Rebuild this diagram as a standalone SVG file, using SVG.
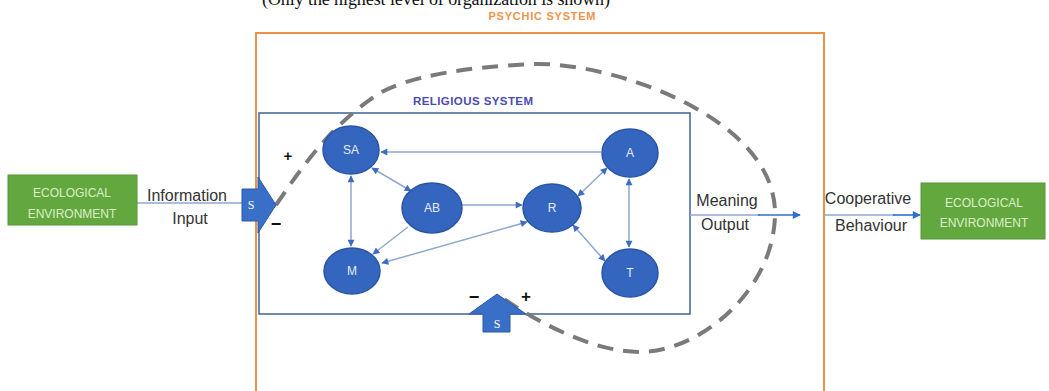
<svg xmlns="http://www.w3.org/2000/svg" width="1049" height="391" viewBox="0 0 1049 391">
<defs>
<style>
.node ellipse{fill:#3466c0;stroke:#2a55a3;stroke-width:1.5}
.node text{fill:#e6edf9;font-family:"Liberation Sans",Arial,sans-serif;font-size:12px;text-anchor:middle}
.edge{stroke:#8ea8cf;stroke-width:1.5;fill:none}
.lbl{fill:#333;font-family:"Liberation Sans",Arial,sans-serif;font-size:16px;text-anchor:middle}
.eco rect{fill:#62a83e;stroke:#559636;stroke-width:1}
.eco text{fill:#dcefc8;font-family:"Liberation Sans",Arial,sans-serif;font-size:12px;text-anchor:middle}
.sarrow polygon{fill:#3a6fc8;stroke:#2b5aa8;stroke-width:1}
.sarrow text{fill:#fff;font-family:"Liberation Serif",serif;font-size:12px;text-anchor:middle}
.sign{fill:#111;font-family:"Liberation Sans",Arial,sans-serif;font-weight:bold;text-anchor:middle}
</style>
<marker id="ah" viewBox="0 0 10 10" refX="9" refY="5" markerWidth="8" markerHeight="7" markerUnits="userSpaceOnUse" orient="auto-start-reverse">
<path d="M0,0 L10,5 L0,10 z" fill="#3d6dc2"/>
</marker>
<marker id="ahb" viewBox="0 0 10 10" refX="9" refY="5" markerWidth="9" markerHeight="8" markerUnits="userSpaceOnUse" orient="auto">
<path d="M0,0 L10,5 L0,10 z" fill="#2f6fd0"/>
</marker>
</defs>
<rect width="1049" height="391" fill="#ffffff"/>
<text x="262" y="5" font-family="Liberation Serif,serif" font-size="18" fill="#111" textLength="348">(Only the highest level of organization is shown)</text>
<g id="psychic-system">
<rect x="256" y="33" width="568" height="380" fill="none" stroke="#ee9046" stroke-width="2"/>
<text x="542" y="20" fill="#f0934a" font-family="Liberation Sans,Arial,sans-serif" font-weight="bold" font-size="11" text-anchor="middle" textLength="107">PSYCHIC SYSTEM</text>
</g>
<g id="religious-system">
<rect x="259" y="113" width="431" height="201" fill="none" stroke="#4a6d9e" stroke-width="1.6"/>
<text x="473" y="105" fill="#4b4bb4" font-family="Liberation Sans,Arial,sans-serif" font-weight="bold" font-size="11.5" text-anchor="middle" textLength="120">RELIGIOUS SYSTEM</text>
</g>
<g id="connectors">
<line class="edge" x1="601" y1="152" x2="381" y2="152" marker-end="url(#ah)"/>
<line class="edge" x1="372" y1="168" x2="411" y2="191" marker-start="url(#ah)" marker-end="url(#ah)"/>
<line class="edge" x1="351" y1="176" x2="351" y2="246" marker-start="url(#ah)" marker-end="url(#ah)"/>
<line class="edge" x1="462" y1="205" x2="522" y2="205" marker-end="url(#ah)"/>
<line class="edge" x1="408" y1="227" x2="373" y2="254" marker-end="url(#ah)"/>
<line class="edge" x1="527" y1="222" x2="382" y2="263" marker-start="url(#ah)" marker-end="url(#ah)"/>
<line class="edge" x1="578" y1="196" x2="607" y2="168" marker-start="url(#ah)" marker-end="url(#ah)"/>
<line class="edge" x1="573" y1="225" x2="605" y2="261" marker-start="url(#ah)" marker-end="url(#ah)"/>
<line class="edge" x1="629" y1="179" x2="629" y2="247" marker-start="url(#ah)" marker-end="url(#ah)"/>
<line class="edge" x1="137" y1="203" x2="242" y2="203"/>
<line class="edge" x1="690" y1="215" x2="760" y2="215"/>
<line x1="758" y1="215" x2="800" y2="215" stroke="#2f6fd0" stroke-width="1.6" marker-end="url(#ahb)"/>
<line class="edge" x1="825" y1="215" x2="895" y2="215"/>
<line x1="893" y1="215" x2="920" y2="215" stroke="#2f6fd0" stroke-width="1.6" marker-end="url(#ahb)"/>
</g>
<g id="feedback-loop">
<path d="M276,205 C300,170 330,125 380,93 C405,78 465,66 538,64 C620,64 775,120 775,213 C775,290 700,352 640,352 C590,352 530,318 497,294" fill="none" stroke="#7a7a7a" stroke-width="4" stroke-dasharray="16 10"/>
</g>
<g id="node-SA" class="node"><ellipse cx="351" cy="150" rx="28" ry="24"/><text x="351" y="154">SA</text></g>
<g id="node-A" class="node"><ellipse cx="630" cy="153" rx="28" ry="24"/><text x="630" y="157">A</text></g>
<g id="node-AB" class="node"><ellipse cx="432" cy="208" rx="30" ry="25"/><text x="432" y="212">AB</text></g>
<g id="node-R" class="node"><ellipse cx="552" cy="208" rx="29" ry="24"/><text x="552" y="212">R</text></g>
<g id="node-M" class="node"><ellipse cx="352" cy="271" rx="28" ry="23"/><text x="352" y="275">M</text></g>
<g id="node-T" class="node"><ellipse cx="630" cy="273" rx="28" ry="24"/><text x="630" y="277">T</text></g>
<g id="eco-left" class="eco"><rect x="8" y="175" width="129" height="50"/><text x="72" y="197">ECOLOGICAL</text><text x="72" y="218">ENVIRONMENT</text></g>
<g id="eco-right" class="eco"><rect x="921" y="183" width="124" height="56"/><text x="984" y="207">ECOLOGICAL</text><text x="984" y="227">ENVIRONMENT</text></g>
<g id="sensor-left" class="sarrow"><polygon points="242,189 258,189 258,177 276,205 258,233 258,221 242,221"/><text x="251" y="209">S</text></g>
<g id="sensor-bottom" class="sarrow"><polygon points="483,332 510,332 510,314 526,314 497,294 469,314 483,314"/><text x="497" y="328">S</text></g>
<g id="labels">
<text class="lbl" x="187" y="201">Information</text>
<text class="lbl" x="190" y="224">Input</text>
<text class="lbl" x="727" y="206">Meaning</text>
<text class="lbl" x="725" y="230">Output</text>
<text class="lbl" x="868" y="204">Cooperative</text>
<text class="lbl" x="871" y="231">Behaviour</text>
<text class="sign" x="288" y="161" font-size="15">+</text>
<text class="sign" x="276" y="230" font-size="18">−</text>
<text class="sign" x="474" y="303" font-size="18">−</text>
<text class="sign" x="526" y="302" font-size="17">+</text>
</g>
</svg>
